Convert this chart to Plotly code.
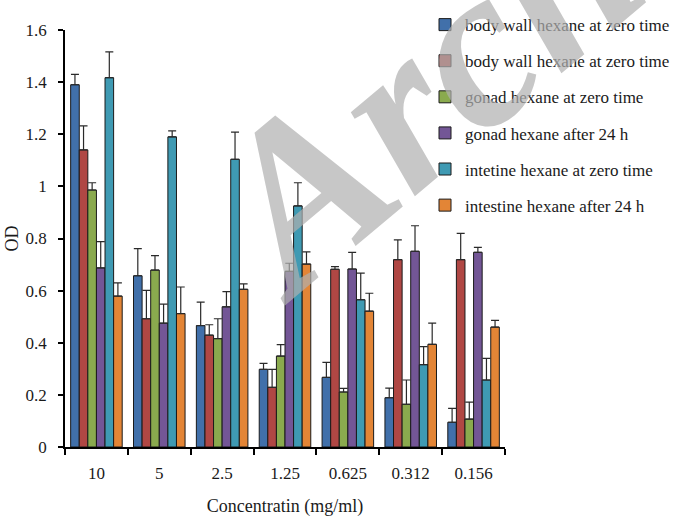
import plotly.graph_objects as go

concentrations = ["10", "5", "2.5", "1.25", "0.625", "0.312", "0.156"]

series_names = [
    "body wall hexane at zero time",
    "body wall hexane at zero time",
    "gonad hexane at zero time",
    "gonad hexane after 24 h",
    "intetine hexane at zero time",
    "intestine hexane after 24 h",
]

body_wall_zero = [1.39, 0.657, 0.466, 0.298, 0.267, 0.189, 0.095]
body_wall_24 = [1.14, 0.492, 0.429, 0.229, 0.682, 0.719, 0.719]
gonad_zero = [0.986, 0.679, 0.416, 0.349, 0.211, 0.164, 0.107]
gonad_24 = [0.687, 0.475, 0.538, 0.674, 0.683, 0.751, 0.747]
intestine_zero = [1.417, 1.19, 1.104, 0.925, 0.565, 0.316, 0.257]
intestine_24 = [0.579, 0.512, 0.605, 0.702, 0.521, 0.394, 0.46]

body_wall_zero_err = [0.04, 0.104, 0.09, 0.023, 0.058, 0.037, 0.053]
body_wall_24_err = [0.092, 0.109, 0.04, 0.069, 0.01, 0.076, 0.101]
gonad_zero_err = [0.028, 0.055, 0.076, 0.044, 0.014, 0.093, 0.065]
gonad_24_err = [0.101, 0.073, 0.058, 0.031, 0.064, 0.098, 0.019]
intestine_zero_err = [0.099, 0.023, 0.104, 0.089, 0.102, 0.069, 0.083]
intestine_24_err = [0.051, 0.102, 0.021, 0.047, 0.069, 0.081, 0.026]

values = [body_wall_zero, body_wall_24, gonad_zero, gonad_24, intestine_zero, intestine_24]
errors = [body_wall_zero_err, body_wall_24_err, gonad_zero_err, gonad_24_err,
          intestine_zero_err, intestine_24_err]
colors = ["#4170AA", "#B04744", "#8AAA4E", "#735696", "#3F9AB3", "#E38536"]

y_ticks = [0, 0.2, 0.4, 0.6, 0.8, 1, 1.2, 1.4, 1.6]

FONT = "Liberation Serif, Times New Roman, serif"

fig = go.Figure()
for i, (name, vals, errs, col) in enumerate(zip(series_names, values, errors, colors)):
    fig.add_trace(go.Bar(
        x=concentrations,
        y=vals,
        name=name,
        legendgroup=f"g{i}",
        marker=dict(color=col, line=dict(color="#1a1a1a", width=1)),
        error_y=dict(type="data", array=errs, symmetric=False,
                     arrayminus=[0] * len(errs), color="#2a2a2a",
                     thickness=1.2, width=4),
    ))

# Watermark across the chart
fig.add_annotation(
    text="<b><i>Archive</i></b>",
    xref="paper", yref="paper",
    x=1.041, y=1.06,
    xanchor="center", yanchor="middle",
    showarrow=False, textangle=-40,
    font=dict(family=FONT, size=230, color="#b0b0b0"),
    opacity=0.7,
)

fig.update_layout(
    width=673, height=517,
    margin=dict(l=65, r=168, t=30, b=70, autoexpand=False),
    paper_bgcolor="white", plot_bgcolor="white",
    barmode="group", bargap=0.18, bargroupgap=0,
    font=dict(family=FONT, size=17, color="#1a1a1a"),
    showlegend=True,
    legend=dict(
        x=(425 - 65) / 440, y=1.055, xanchor="left", yanchor="top",
        traceorder="grouped", tracegroupgap=11,
        font=dict(family=FONT, size=17, color="#1a1a1a"),
        bgcolor="rgba(0,0,0,0)", itemwidth=30,
    ),
    xaxis=dict(
        title=dict(text="Concentratin (mg/ml)", font=dict(size=18), standoff=18),
        showline=True, linecolor="black", linewidth=1.5,
        ticks="outside", tickson="boundaries", ticklen=6, tickcolor="black",
        tickwidth=1.5, ticklabelstandoff=10, showgrid=False,
        tickfont=dict(size=17), automargin=False,
    ),
    yaxis=dict(
        title=dict(text="OD", font=dict(size=18), standoff=2),
        range=[0, 1.6], tickvals=y_ticks, ticktext=[f"{v:g}" for v in y_ticks],
        showline=True, linecolor="black", linewidth=1.8,
        ticks="outside", ticklen=5, tickcolor="black", tickwidth=1.5,
        ticklabelstandoff=8, showgrid=False, zeroline=False,
        tickfont=dict(size=17), automargin=False,
    ),
)

fig.write_html("out.html")
